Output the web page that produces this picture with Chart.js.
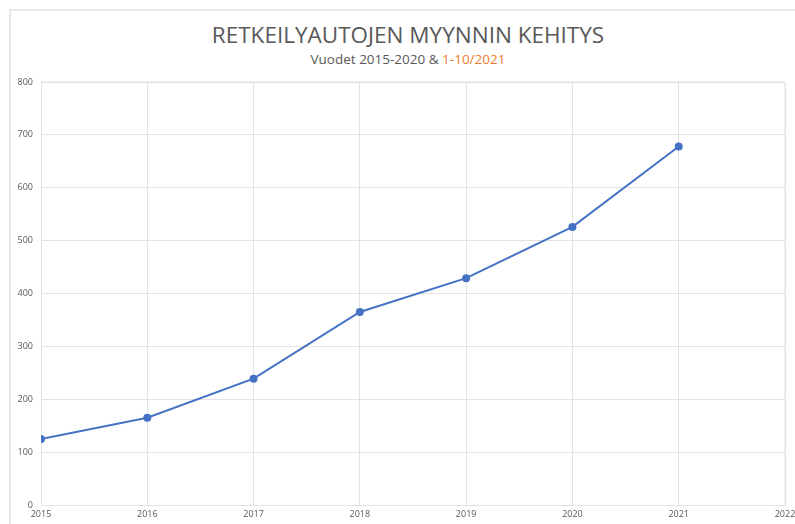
<!DOCTYPE html>
<html>
<head>
<meta charset="utf-8">
<script src="https://cdn.jsdelivr.net/npm/chart.js@4"></script>
<style>
  html, body { margin: 0; padding: 0; background: #fff; }
  #wrap { position: relative; width: 795px; height: 524px; overflow: hidden; }
  #frame { position: absolute; left: 9px; top: 9px; width: 800px; height: 530px;
           border-top: 2px solid #e8e8e8; border-left: 2px solid #e8e8e8; }
  #title { position: absolute; left: 0; top: 19px; width: 816px; text-align: center;
           font-family: "Open Sans", sans-serif; font-size: 22.5px; color: #595959; }
  #subtitle { position: absolute; left: 0; top: 50px; width: 816px; text-align: center;
           font-family: "Open Sans", sans-serif; font-size: 13.5px; color: #595959; }
  #subtitle span { color: #ed7d31; }
  canvas { position: absolute; left: 0; top: 0; }
</style>
</head>
<body>
<div id="wrap">
  <div id="frame"></div>
  <div id="title">RETKEILYAUTOJEN MYYNNIN KEHITYS</div>
  <div id="subtitle">Vuodet 2015-2020 &amp; <span>1-10/2021</span></div>
  <canvas id="chart" width="795" height="524"></canvas>
</div>
<script>
// sales per year (2021 = Jan-Oct)
const years = [2015, 2016, 2017, 2018, 2019, 2020, 2021];
const sales = [125, 165, 239, 365, 429, 526, 678];

const yMin = 0, yMax = 800, yStep = 100;
const xMin = 2015, xMax = 2022;

const tickFont = { family: "Open Sans", size: 9 };
const gridColor = "#e3e3e3";

new Chart(document.getElementById("chart"), {
  type: "line",
  data: {
    datasets: [{
      data: years.map((y, i) => ({ x: y, y: sales[i] })),
      borderColor: "#4472c4",
      backgroundColor: "#4472c4",
      borderWidth: 2,
      pointRadius: 3,
      pointHoverRadius: 3,
      tension: 0
    }]
  },
  options: {
    responsive: false,
    animation: false,
    layout: { padding: { top: 82, right: 0, left: 0, bottom: 0 } },
    plugins: { legend: { display: false }, tooltip: { enabled: false } },
    scales: {
      x: {
        type: "linear",
        min: xMin,
        max: xMax,
        ticks: { stepSize: 1, color: "#595959", font: tickFont, padding: 4,
                 callback: v => String(v) },
        grid: { color: gridColor, drawTicks: false },
        border: { color: gridColor },
        afterFit: s => { s.height = 19; s.paddingRight = 10; }
      },
      y: {
        min: yMin,
        max: yMax,
        ticks: { stepSize: yStep, color: "#595959", font: tickFont, padding: 8 },
        grid: { color: gridColor, drawTicks: false },
        border: { color: gridColor },
        afterFit: s => { s.width = 41; }
      }
    }
  },
  plugins: [{
    id: "rightBorder",
    afterDraw(chart) {
      const a = chart.chartArea, ctx = chart.ctx;
      ctx.save();
      ctx.strokeStyle = gridColor;
      ctx.lineWidth = 1;
      ctx.beginPath();
      ctx.moveTo(a.right, a.top);
      ctx.lineTo(a.right, a.bottom);
      ctx.moveTo(a.left, a.top);
      ctx.lineTo(a.right, a.top);
      ctx.stroke();
      ctx.restore();
    }
  }]
});
</script>
</body>
</html>
